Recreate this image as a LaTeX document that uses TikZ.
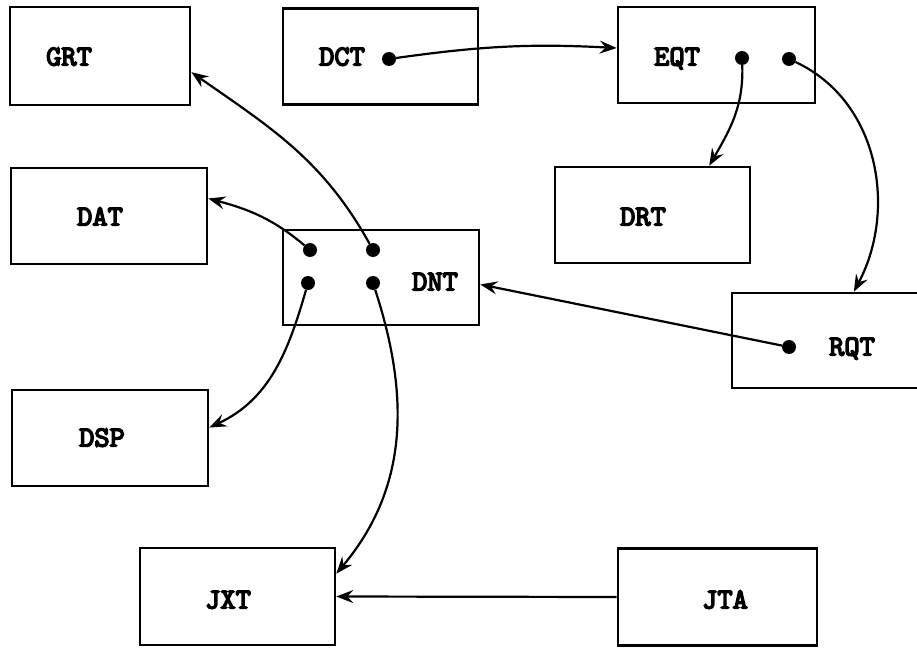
\documentclass[tikz,border=0pt]{standalone}
\usepackage{fontspec}
\newfontfamily\boxfont{lmmono10-regular.otf}[FakeBold=5]
\usetikzlibrary{arrows.meta, positioning}

\begin{document}
\begin{tikzpicture}[
    x=1pt, y=1pt,
    every node/.style={font=\boxfont\fontsize{29}{30}\selectfont},
    box/.style={draw, line width=2.6pt, minimum width=196pt, minimum height=96pt, inner sep=0pt},
    tag/.style={inner sep=0pt, text height=17pt, text depth=0pt},
    dot/.style={circle, fill, inner sep=0pt, minimum size=14pt},
    arr/.style={-{Stealth[length=17pt, width=13pt, inset=6pt]}, line width=2.2pt}
]
    \useasboundingbox (0,0) rectangle (917,649);

    % boxes
    \node[box, minimum width=180pt, minimum height=98pt] (grt) at (100,593) {};
    \node[box, minimum width=195pt] (dct) at (380.5,592.5) {};
    \node[box, minimum width=197pt] (eqt) at (716.5,594) {};
    \node[box] (dat) at (109,433) {};
    \node[box, minimum width=195pt] (drt) at (652.5,434) {};
    \node[box, minimum height=95pt] (dnt) at (381,371.5) {};
    \node[box, minimum height=95pt] (rqt) at (830,308.5) {};
    \node[box] (dsp) at (110,211) {};
    \node[box, minimum width=195pt, minimum height=97pt] (jxt) at (237.5,52.5) {};
    \node[box, minimum width=199pt, minimum height=97pt] (jta) at (717.5,52) {};

    % names
    \node[tag] (grt-t) at (69,592) {GRT};
    \node[tag] (dct-t) at (342,592) {DCT};
    \node[tag] (eqt-t) at (677,592) {EQT};
    \node[tag] (dat-t) at (100,432) {DAT};
    \node[tag] (drt-t) at (643,432) {DRT};
    \node[tag] (dnt-t) at (435,367) {DNT};
    \node[tag] (rqt-t) at (852,302) {RQT};
    \node[tag] (dsp-t) at (102,211) {DSP};
    \node[tag] (jxt-t) at (228,49) {JXT};
    \node[tag] (jta-t) at (725,49) {JTA};

    % pointer dots
    \node[dot] (dct-d) at (389,590) {};
    \node[dot] (eqt-d1) at (742,591) {};
    \node[dot] (eqt-d2) at (789,590) {};
    \node[dot] (dnt-d1) at (310,399) {};
    \node[dot] (dnt-d2) at (373,399) {};
    \node[dot] (dnt-d3) at (308,366) {};
    \node[dot] (dnt-d4) at (373,366) {};
    \node[dot] (rqt-d) at (789,302) {};

    % pointers
    \draw[arr] (dct-d) to[out=8, in=177] (eqt.176);
    \draw[arr] (eqt-d1) to[out=-88, in=60] (drt.41);
    \draw[arr] (eqt-d2) to[out=-25, in=62] (rqt.64);
    \draw[arr] (dnt-d2) to[out=119, in=-35] (grt.350);
    \draw[arr] (dnt-d1) to[out=140, in=-15] (dat.10);
    \draw[arr] (dnt-d3) to[out=-106, in=25] (dsp.6);
    \draw[arr] (dnt-d4) to[out=-72, in=50] (jxt.13.5);
    \draw[arr] (rqt-d) -- (dnt.356);
    \draw[arr] (jta.west) -- (jxt.east);
\end{tikzpicture}
\end{document}
